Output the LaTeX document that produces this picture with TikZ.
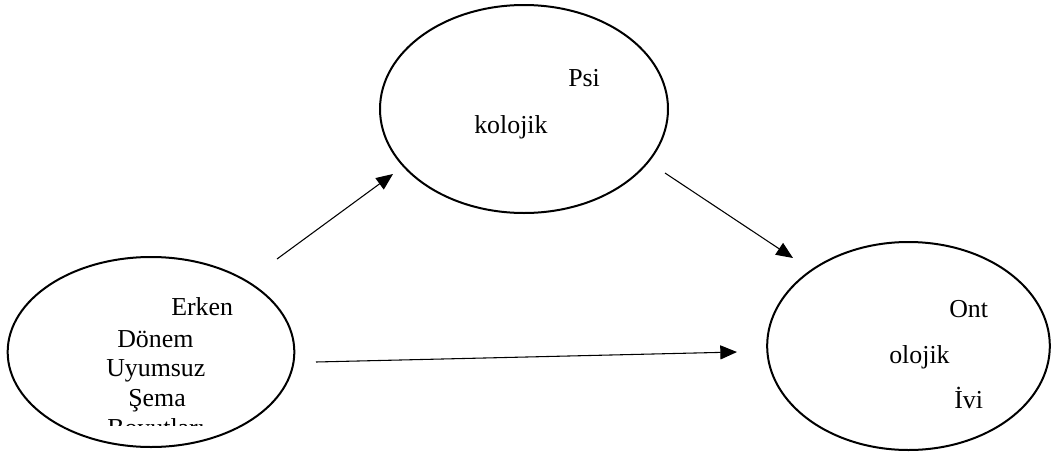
\documentclass[tikz,border=0pt]{standalone}
\usepackage{fontspec}
\setmainfont{Liberation Serif}
\usetikzlibrary{shapes.geometric,arrows.meta}
\begin{document}
\begin{tikzpicture}[x=0.75pt,y=-0.75pt,
  oval/.style={ellipse,draw,line width=1.5pt,inner sep=0pt},
  lbl/.style={anchor=base west,inner sep=0pt,font=\fontsize{19.4pt}{22.5pt}\selectfont},
  conn/.style={line width=0.8pt,-{Triangle[length=12.5pt,width=10.5pt]}}]
\useasboundingbox (0,0) rectangle (1051,454);
% ellipses
\node[oval,minimum width=215pt,minimum height=142.5pt] (left) at (151,352) {};
\node[oval,minimum width=216pt,minimum height=156pt] (top) at (524,109) {};
\node[oval,minimum width=212pt,minimum height=156pt] (right) at (908.5,346) {};
% texts
\node[lbl] (t1) at (171,315) {Erken};
\node[lbl] (t2) at (117,347) {Dönem};
\node[lbl] (t3) at (106,376) {Uyumsuz};
\node[lbl] (t4) at (128,406) {Şema};
\begin{scope}
\clip (0,0) rectangle (1051,425);
\node[lbl] (t5) at (107,436) {Boyutları};
\end{scope}
\node[lbl] (p1) at (568,86) {Psi};
\node[lbl] (p2) at (474,133) {kolojik};
\node[lbl] (o1) at (949,317) {Ont};
\node[lbl] (o2) at (889,363) {olojik};
\node[lbl] (o3) at (954,408) {İvi};
% connector end points
\coordinate (a1s) at (277,259);
\coordinate (a1e) at (393,174);
\coordinate (a2s) at (665,173);
\coordinate (a2e) at (793,258);
\coordinate (a3s) at (316,362);
\coordinate (a3e) at (737,352);
\draw[conn] (a1s) -- (a1e);
\draw[conn] (a2s) -- (a2e);
\draw[conn] (a3s) -- (a3e);
\end{tikzpicture}
\end{document}
